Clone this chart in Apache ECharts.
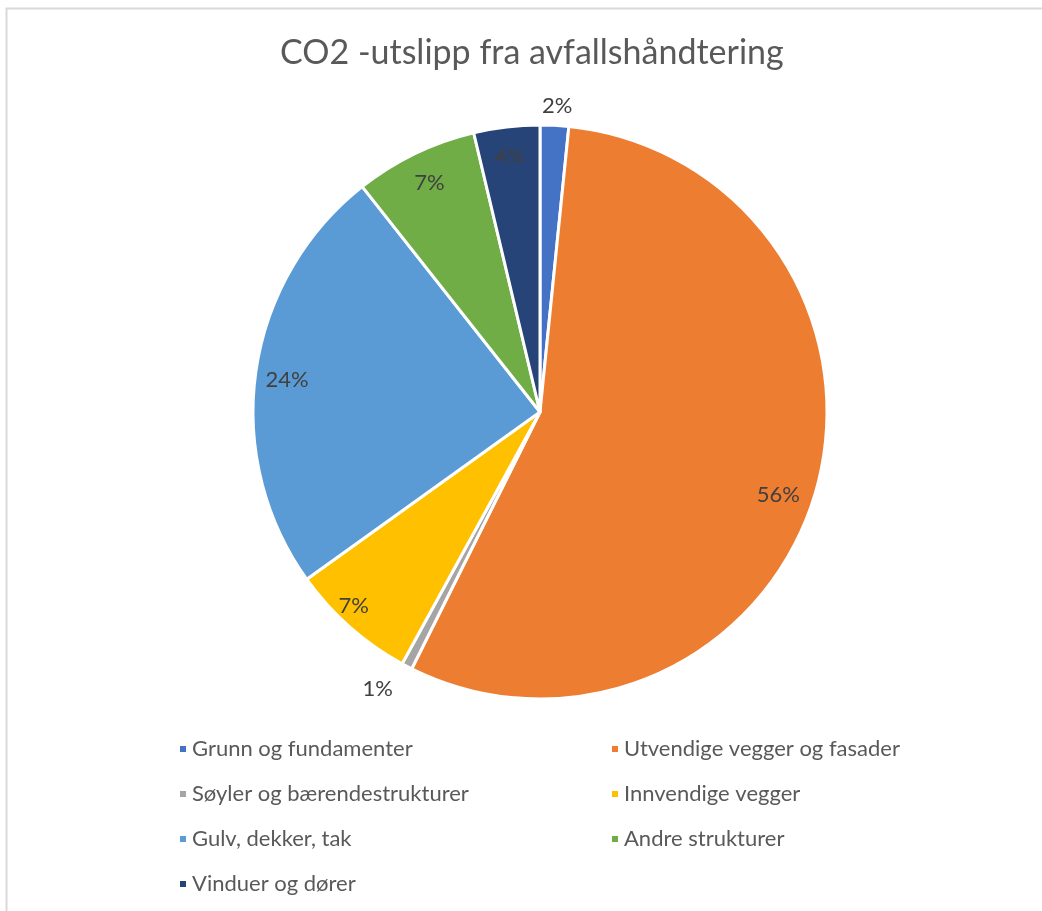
<!DOCTYPE html>
<html>
<head>
<meta charset="utf-8">
<script src="https://cdn.jsdelivr.net/npm/echarts@6/dist/echarts.min.js"></script>
<style>html,body{margin:0;padding:0;background:#fff;}#c{width:1042px;height:911px;}</style>
</head>
<body>
<div id="c"></div>
<script>
var titleText = 'CO2 -utslipp fra avfallshåndtering';
var categories = ['Grunn og fundamenter', 'Utvendige vegger og fasader', 'Søyler og bærendestrukturer', 'Innvendige vegger', 'Gulv, dekker, tak', 'Andre strukturer', 'Vinduer og dører'];
var values = [1.6, 55.6, 0.6, 7.1, 24.2, 6.9, 3.7];
var colors = ['#4472C4', '#ED7D31', '#A5A5A5', '#FFC000', '#5B9BD5', '#70AD47', '#264478'];
var outsideLabels = ['Grunn og fundamenter', 'Søyler og bærendestrukturer'];
var leftLegend = ['Grunn og fundamenter', 'Søyler og bærendestrukturer', 'Gulv, dekker, tak', 'Vinduer og dører'];
var rightLegend = ['Utvendige vegger og fasader', 'Innvendige vegger', 'Andre strukturer'];

var FONT = 'Lato';
var R = 287;
var chart = echarts.init(document.getElementById('c'), null, {renderer: 'canvas'});

var mainData = categories.map(function (n, i) {
  return {name: n, value: values[i], itemStyle: {color: colors[i]}};
});
var labelData = categories.map(function (n, i) {
  var out = outsideLabels.indexOf(n) >= 0;
  return {
    name: n, value: values[i],
    label: out ? {position: 'outside'} : {position: 'inside'},
    labelLine: {show: false, length: i === 2 ? 26 : 10, length2: 0}
  };
});
// small nudges so labels sit where the original placed them
var labelNudge = [[-18, -9], [-10, 11], [3, 0], [-15, 0], [3, 4], [2, 4], [0, 2]];

var legendText = {color: '#595959', fontSize: 22, fontFamily: FONT, lineHeight: 22, padding: [0, 0, 0, 0]};

chart.setOption({
  backgroundColor: '#fff',
  animation: false,
  title: {
    text: titleText, left: 275, top: 31,
    textStyle: {color: '#595959', fontSize: 34, fontWeight: 'normal', fontFamily: FONT}
  },
  graphic: [{
    type: 'rect', shape: {x: 6.5, y: 8.5, width: 1100, height: 1000},
    style: {fill: 'none', stroke: '#d9d9d9', lineWidth: 2}, silent: true
  }],
  legend: [{
    data: leftLegend, orient: 'vertical', left: 173, top: 733,
    icon: 'rect', itemWidth: 8, itemHeight: 8, itemGap: 23,
    textStyle: legendText, selectedMode: false
  }, {
    data: rightLegend, orient: 'vertical', left: 605, top: 733,
    icon: 'rect', itemWidth: 8, itemHeight: 8, itemGap: 23,
    textStyle: legendText, selectedMode: false
  }],
  series: [{
    type: 'pie', center: [540, 412], radius: [0, R],
    startAngle: 90, clockwise: true,
    label: {show: false}, labelLine: {show: false},
    itemStyle: {borderColor: '#fff', borderWidth: 3},
    emphasis: {disabled: true},
    data: mainData
  }, {
    type: 'pie', center: [540, 412], radius: [R * 0.78, R],
    startAngle: 90, clockwise: true, silent: true,
    itemStyle: {color: 'rgba(0,0,0,0)', borderWidth: 0},
    emphasis: {disabled: true},
    avoidLabelOverlap: false,
    label: {
      show: true,
      formatter: function (p) { return Math.round(p.percent) + '%'; },
      color: '#404040', fontSize: 22, fontFamily: FONT
    },
    labelLayout: function (p) {
      var n = labelNudge[p.dataIndex] || [0, 0];
      return {dx: n[0], dy: n[1]};
    },
    data: labelData
  }]
});
</script>
</body>
</html>
